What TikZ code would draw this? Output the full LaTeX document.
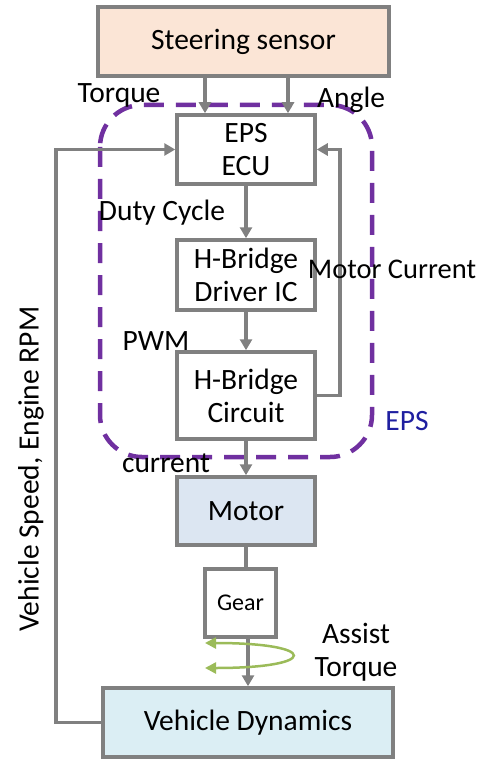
\documentclass[tikz,border=0pt]{standalone}
\usepackage{fontspec}
\setmainfont{Carlito}
\usetikzlibrary{arrows.meta,positioning}
\definecolor{boxgray}{HTML}{808080}
\definecolor{sensorfill}{HTML}{FBE5D6}
\definecolor{motorfill}{HTML}{DCE6F2}
\definecolor{vdfill}{HTML}{DBEEF4}
\definecolor{epspurple}{HTML}{7030A0}
\definecolor{epsblue}{HTML}{1F1FA0}
\definecolor{assistgreen}{HTML}{9BBB59}
\tikzset{
  blk/.style={draw=boxgray, line width=3.5pt, align=center, inner sep=0pt, font=\fontsize{29.5}{33}\selectfont},
  conn/.style={draw=boxgray, line width=3.5pt, -{Triangle[length=11pt,width=12pt]}},
  plain/.style={draw=boxgray, line width=3.5pt},
  lbl/.style={font=\fontsize{29.5}{33}\selectfont, inner sep=0pt},
}
\begin{document}
\begin{tikzpicture}[x=1pt,y=-1pt]
\useasboundingbox (0,0) rectangle (479,759);
% EPS region
\draw[epspurple, line width=4.5pt, dash pattern=on 20pt off 12pt, rounded corners=42pt] (100,105) rectangle (372,457);
% boxes
\node[blk, fill=sensorfill, minimum width=291pt, minimum height=69pt] (sensor) at (243.5,41.5) {Steering sensor};
\node[blk, fill=white, minimum width=138pt, minimum height=69pt] (ecu) at (246,149.5) {EPS\\ECU};
\node[blk, fill=white, minimum width=138pt, minimum height=70pt] (drv) at (246,275) {H-Bridge\\Driver IC};
\node[blk, fill=white, minimum width=138pt, minimum height=87pt] (hbc) at (246,395.5) {H-Bridge\\Circuit};
\node[blk, fill=motorfill, minimum width=138pt, minimum height=68pt] (motor) at (246,511) {Motor};
\node[blk, fill=white, minimum width=71pt, minimum height=68pt, font=\fontsize{24}{28}\selectfont] (gear) at (240.5,603) {Gear};
\node[blk, fill=vdfill, minimum width=290pt, minimum height=69pt] (vd) at (248,722.5) {Vehicle Dynamics};
% connectors
\coordinate (tq) at (205,0);
\coordinate (an) at (288,0);
\draw[conn] (sensor.south -| tq) -- (ecu.north -| tq);
\draw[conn] (sensor.south -| an) -- (ecu.north -| an);
\draw[conn] (ecu) -- (drv);
\draw[conn] (drv) -- (hbc);
\draw[conn] (hbc) -- (motor);
\draw[plain] (motor.south) -- (gear.north -| motor.south);
\coordinate (gx) at (248,0);
\draw[conn] (gear.south -| gx) -- (vd.north -| gx);
\coordinate (lx) at (56,0);
\coordinate (rx) at (340,0);
\draw[conn] (vd.west) -- (vd.west -| lx) -- (ecu.west -| lx) -- (ecu.west);
\draw[conn] (hbc.east) -- (hbc.east -| rx) -- (ecu.east -| rx) -- (ecu.east);
% assist torque arrow
\coordinate (at1) at (205,643);
\coordinate (at2) at (205,668);
\draw[assistgreen, line width=2.5pt, {Triangle[length=11pt,width=11pt]}-{Triangle[length=11pt,width=11pt]}] (at1) .. controls (320,643) and (320,668) .. (at2);
% labels
\node[lbl] (ltorque) at (119,95) {Torque};
\node[lbl] (langle) at (351,100) {Angle};
\node[lbl] (lduty) at (162,213) {Duty Cycle};
\node[lbl, font=\fontsize{28.5}{33}\selectfont] (lmc) at (392,269) {Motor Current};
\node[lbl] (lpwm) at (156,341) {PWM};
\node[lbl] (lcur) at (166,463) {current};
\node[lbl, text=epsblue] (leps) at (407,421) {EPS};
\node[lbl, rotate=90] (lvs) at (31,469) {Vehicle Speed, Engine RPM};
\node[lbl, align=center] (lassist) at (356,652) {Assist\\Torque};
\end{tikzpicture}
\end{document}
